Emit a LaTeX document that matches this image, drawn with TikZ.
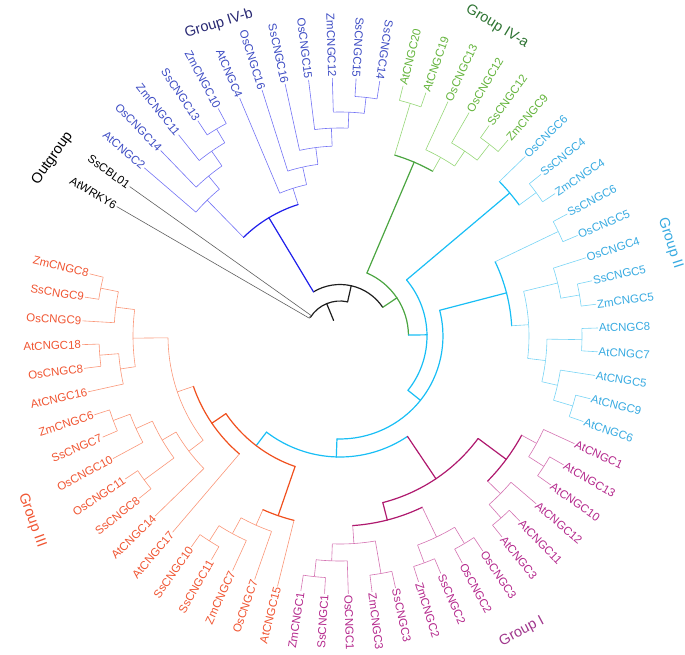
\documentclass[tikz,border=0pt]{standalone}
\usepackage{fontspec}
\setmainfont{Liberation Sans}
\usepackage{tikz}
\usetikzlibrary{calc}
\definecolor{TrunkBlack}{RGB}{30,30,30}
\definecolor{OutGray}{RGB}{95,95,95}
\definecolor{IVbDark}{RGB}{30,30,235}
\definecolor{IVbTwig}{RGB}{115,115,245}
\definecolor{IVbText}{RGB}{60,75,195}
\definecolor{IVbTitle}{RGB}{40,40,115}
\definecolor{IVaDark}{RGB}{75,165,65}
\definecolor{IVaTwig}{RGB}{150,215,120}
\definecolor{IVaText}{RGB}{100,180,60}
\definecolor{IVaTitle}{RGB}{45,115,50}
\definecolor{IIDark}{RGB}{25,190,245}
\definecolor{IITwig}{RGB}{120,212,245}
\definecolor{IIText}{RGB}{55,170,225}
\definecolor{IDark}{RGB}{175,25,110}
\definecolor{ITwig}{RGB}{212,115,178}
\definecolor{IText}{RGB}{180,40,140}
\definecolor{ITitle}{RGB}{160,55,140}
\definecolor{IIIDark}{RGB}{240,80,30}
\definecolor{IIITwig}{RGB}{250,150,120}
\definecolor{IIIText}{RGB}{240,85,50}

\newcommand{\angof}[1]{149.9-5.29*(#1)}
\newcommand{\leaf}[3]{%
  \pgfmathsetmacro{\leafang}{\angof{#1}}%
  \ifnum#1<14\relax\def\leftside{1}\else\ifnum#1>45\relax\def\leftside{1}\else\def\leftside{0}\fi\fi
  \ifnum\leftside=1
    \node[leaflabel,text=#3,anchor=east,rotate=\leafang+180] (#2) at (\leafang:258pt) {#2};
  \else
    \node[leaflabel,text=#3,anchor=west,rotate=\leafang] (#2) at (\leafang:258pt) {#2};
  \fi}
\newcommand{\branch}[4]{%
  \draw[#1] let \p1=(#3), \p2=(#4), \n1={atan2(\y1,\x1)},
    \n2={(\n1)+mod(atan2(\y2,\x2)-(\n1)+540,360)-180}, \n3={veclen(\x1,\y1)}
    in (#3) arc[start angle=\n1, end angle=\n2, radius=\n3] coordinate (elbow);
  \draw[#2] (elbow) -- (#4);}

\tikzset{
  trunk/.style={line width=1.2pt, draw=#1, line cap=round},
  twig/.style={line width=0.6pt, draw=#1},
  leaflabel/.style={font=\fontsize{11.5}{13}\selectfont, inner sep=1pt},
  grouplabel/.style={font=\fontsize{14.5}{16}\selectfont, inner sep=0pt}
}

\begin{document}
\begin{tikzpicture}
    \useasboundingbox (-340pt,-318pt) rectangle (345pt,336pt);
    \foreach \nm/\ps/\rr in {root/7.10/17, R/7.10/35, out/0.5/35.5, B/13.70/51.5,
        IVb/5.46/138, IVbL/2.9375/190, n3to6/3.875/207, n4to6/4.75/225, n5to6/5.5/241,
        IVbR/7.984/155, n8to13/8.969/173, n9to13/9.9375/190, n10to13/10.875/208, n11to13/11.75/224, n12to13/12.5/240,
        G/21.94/68.5, IVa/15.69/189, n14to15/14.5/243, n16to19/16.875/205, n17to19/17.75/223, n18to19/18.5/243,
        A1/28.19/87, IIa/20.75/222, n21to22/21.5/243, A1p/35.64/103, IIb/25.59/172, n23to24/23.5/242,
        n25to32/27.69/189, n25to27/25.75/224, n26to27/26.5/243, n28to32/29.625/207, n28to29/28.5/242,
        n30to32/30.75/223, n31to32/31.5/243,
        A2/45.68/121, GI/38.94/172, Ia/35.25/207, n33to35/33.75/224, n34to35/34.5/242, n36to38/36.75/225, n37to38/37.5/243,
        Ib/42.625/190, n39to42/40.5/223, n39to40/39.5/242, n41to42/41.5/242, n43to47/44.625/208, n43to44/43.5/241,
        n45to47/45.75/225, n46to47/46.5/242,
        GIII/52.42/138, IIIb/48.94/190, n49to52/49.875/207, n50to52/50.75/225, n51to52/51.5/243,
        IIIa/55.89/155, n54to65/58.78/172, n54to59/55.31/190, n55to59/56.625/206, n55to56/55.5/243,
        n57to59/57.75/224, n58to59/58.5/242, n60to65/62.25/207, n60to62/60.75/222, n61to62/61.5/241,
        n63to65/63.75/226, n64to65/64.5/244}
        \coordinate (\nm) at ({\angof{\ps}}:\rr pt);

    \foreach \nm [count=\i from 0] in {AtWRKY6,SsCBL01} {\leaf{\i}{\nm}{black}}
    \foreach \nm [count=\i from 2] in {AtCNGC2,OsCNGC14,ZmCNGC11,SsCNGC13,ZmCNGC10,AtCNGC4,OsCNGC16,SsCNGC16,OsCNGC15,ZmCNGC12,SsCNGC15,SsCNGC14} {\leaf{\i}{\nm}{IVbText}}
    \foreach \nm [count=\i from 14] in {AtCNGC20,AtCNGC19,OsCNGC13,OsCNGC12,SsCNGC12,ZmCNGC9} {\leaf{\i}{\nm}{IVaText}}
    \foreach \nm [count=\i from 20] in {OsCNGC6,SsCNGC4,ZmCNGC4,SsCNGC6,OsCNGC5,OsCNGC4,SsCNGC5,ZmCNGC5,AtCNGC8,AtCNGC7,AtCNGC5,AtCNGC9,AtCNGC6} {\leaf{\i}{\nm}{IIText}}
    \foreach \nm [count=\i from 33] in {AtCNGC1,AtCNGC13,AtCNGC10,AtCNGC12,AtCNGC11,AtCNGC3,OsCNGC3,OsCNGC2,SsCNGC2,ZmCNGC2,SsCNGC3,ZmCNGC3,OsCNGC1,SsCNGC1,ZmCNGC1} {\leaf{\i}{\nm}{IText}}
    \foreach \nm [count=\i from 48] in {AtCNGC15,OsCNGC7,ZmCNGC7,SsCNGC11,SsCNGC10,AtCNGC17,AtCNGC14,SsCNGC8,OsCNGC11,OsCNGC10,SsCNGC7,ZmCNGC6,AtCNGC16,OsCNGC8,AtCNGC18,OsCNGC9,SsCNGC9,ZmCNGC8} {\leaf{\i}{\nm}{IIIText}}

    \branch{trunk=TrunkBlack}{trunk=TrunkBlack}{root}{R}
    \branch{trunk=TrunkBlack}{trunk=TrunkBlack}{R}{out}
    \branch{trunk=TrunkBlack}{trunk=TrunkBlack}{R}{B}
    \branch{twig=OutGray}{twig=OutGray}{out}{AtWRKY6}
    \branch{twig=OutGray}{twig=OutGray}{out}{SsCBL01}
    \branch{trunk=TrunkBlack}{trunk=IVbDark}{B}{IVb}
    \branch{trunk=TrunkBlack}{trunk=IVaDark}{B}{G}

    \branch{trunk=IVbDark}{twig=IVbTwig}{IVb}{IVbL}
    \branch{trunk=IVbDark}{twig=IVbTwig}{IVb}{IVbR}
    \foreach \mom/\kid in {IVbL/AtCNGC2, IVbL/n3to6, n3to6/OsCNGC14, n3to6/n4to6, n4to6/ZmCNGC11, n4to6/n5to6,
        n5to6/SsCNGC13, n5to6/ZmCNGC10, IVbR/AtCNGC4, IVbR/n8to13, n8to13/OsCNGC16, n8to13/n9to13,
        n9to13/SsCNGC16, n9to13/n10to13, n10to13/OsCNGC15, n10to13/n11to13, n11to13/ZmCNGC12,
        n11to13/n12to13, n12to13/SsCNGC15, n12to13/SsCNGC14}
        {\branch{twig=IVbTwig}{twig=IVbTwig}{\mom}{\kid}}

    \branch{trunk=IVaDark}{trunk=IVaDark}{G}{IVa}
    \branch{trunk=IVaDark}{trunk=IIDark}{G}{A1}
    \branch{trunk=IVaDark}{twig=IVaTwig}{IVa}{n14to15}
    \branch{trunk=IVaDark}{twig=IVaTwig}{IVa}{n16to19}
    \foreach \mom/\kid in {n14to15/AtCNGC20, n14to15/AtCNGC19, n16to19/OsCNGC13, n16to19/n17to19,
        n17to19/OsCNGC12, n17to19/n18to19, n18to19/SsCNGC12, n18to19/ZmCNGC9}
        {\branch{twig=IVaTwig}{twig=IVaTwig}{\mom}{\kid}}

    \branch{trunk=IIDark}{trunk=IIDark}{A1}{IIa}
    \branch{trunk=IIDark}{trunk=IIDark}{A1}{A1p}
    \branch{trunk=IIDark}{trunk=IIDark}{A1p}{IIb}
    \branch{trunk=IIDark}{trunk=IIDark}{A1p}{A2}
    \branch{trunk=IIDark}{twig=IITwig}{IIa}{OsCNGC6}
    \branch{trunk=IIDark}{twig=IITwig}{IIa}{n21to22}
    \branch{trunk=IIDark}{twig=IITwig}{IIb}{n23to24}
    \branch{trunk=IIDark}{twig=IITwig}{IIb}{n25to32}
    \foreach \mom/\kid in {n21to22/SsCNGC4, n21to22/ZmCNGC4, n23to24/SsCNGC6, n23to24/OsCNGC5,
        n25to32/n25to27, n25to32/n28to32, n25to27/OsCNGC4, n25to27/n26to27, n26to27/SsCNGC5,
        n26to27/ZmCNGC5, n28to32/n28to29, n28to32/n30to32, n28to29/AtCNGC8, n28to29/AtCNGC7,
        n30to32/AtCNGC5, n30to32/n31to32, n31to32/AtCNGC9, n31to32/AtCNGC6}
        {\branch{twig=IITwig}{twig=IITwig}{\mom}{\kid}}

    \branch{trunk=IIDark}{trunk=IDark}{A2}{GI}
    \branch{trunk=IIDark}{trunk=IIDark}{A2}{GIII}
    \branch{trunk=IDark}{trunk=IDark}{GI}{Ia}
    \branch{trunk=IDark}{trunk=IDark}{GI}{Ib}
    \branch{trunk=IDark}{twig=ITwig}{Ia}{n33to35}
    \branch{trunk=IDark}{twig=ITwig}{Ia}{n36to38}
    \branch{trunk=IDark}{twig=ITwig}{Ib}{n39to42}
    \branch{trunk=IDark}{twig=ITwig}{Ib}{n43to47}
    \foreach \mom/\kid in {n33to35/AtCNGC1, n33to35/n34to35, n34to35/AtCNGC13, n34to35/AtCNGC10,
        n36to38/AtCNGC12, n36to38/n37to38, n37to38/AtCNGC11, n37to38/AtCNGC3, n39to42/n39to40,
        n39to42/n41to42, n39to40/OsCNGC3, n39to40/OsCNGC2, n41to42/SsCNGC2, n41to42/ZmCNGC2,
        n43to47/n43to44, n43to47/n45to47, n43to44/SsCNGC3, n43to44/ZmCNGC3, n45to47/OsCNGC1,
        n45to47/n46to47, n46to47/SsCNGC1, n46to47/ZmCNGC1}
        {\branch{twig=ITwig}{twig=ITwig}{\mom}{\kid}}

    \branch{trunk=IIIDark}{trunk=IIIDark}{GIII}{IIIa}
    \branch{trunk=IIIDark}{trunk=IIIDark}{GIII}{IIIb}
    \branch{trunk=IIIDark}{twig=IIITwig}{IIIb}{AtCNGC15}
    \branch{trunk=IIIDark}{twig=IIITwig}{IIIb}{n49to52}
    \branch{trunk=IIIDark}{twig=IIITwig}{IIIa}{AtCNGC17}
    \branch{trunk=IIIDark}{twig=IIITwig}{IIIa}{n54to65}
    \foreach \mom/\kid in {n49to52/OsCNGC7, n49to52/n50to52, n50to52/ZmCNGC7, n50to52/n51to52,
        n51to52/SsCNGC11, n51to52/SsCNGC10, n54to65/n54to59, n54to65/n60to65, n54to59/AtCNGC14,
        n54to59/n55to59, n55to59/n55to56, n55to59/n57to59, n55to56/SsCNGC8, n55to56/OsCNGC11,
        n57to59/OsCNGC10, n57to59/n58to59, n58to59/SsCNGC7, n58to59/ZmCNGC6, n60to65/n60to62,
        n60to65/n63to65, n60to62/AtCNGC16, n60to62/n61to62, n61to62/OsCNGC8, n61to62/AtCNGC18,
        n63to65/OsCNGC9, n63to65/n64to65, n64to65/SsCNGC9, n64to65/ZmCNGC8}
        {\branch{twig=IIITwig}{twig=IIITwig}{\mom}{\kid}}

    \node[grouplabel, rotate=55] (tOut) at (148.3:338pt) {Outgroup};
    \node[grouplabel, text=IVbTitle, rotate=17] (tIVb) at (111.2:335pt) {Group IV-b};
    \node[grouplabel, text=IVaTitle, rotate=-31] (tIVa) at (63.1:347pt) {Group IV-a};
    \node[grouplabel, text=IIText, rotate=-72] (tII) at (15.7:343pt) {Group II};
    \node[grouplabel, text=ITitle, rotate=28] (tI) at (-58.4:347pt) {Group I};
    \node[grouplabel, text=IIIText, rotate=-70] (tIII) at (-149.1:359pt) {Group III};
\end{tikzpicture}
\end{document}
